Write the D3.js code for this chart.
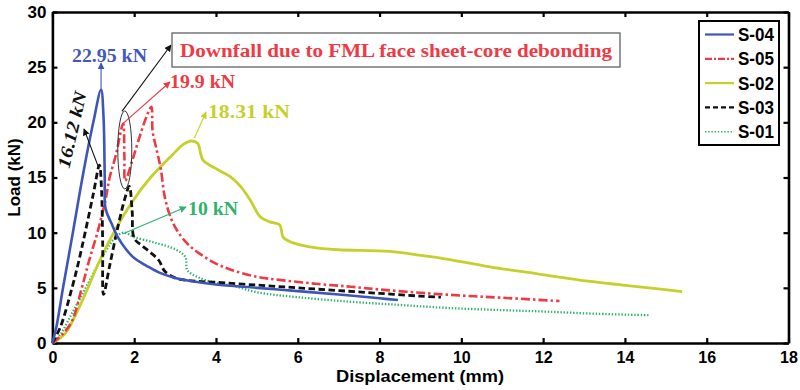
<!DOCTYPE html>
<html>
<head>
<meta charset="utf-8">
<script src="https://cdn.jsdelivr.net/npm/d3@7"></script>
<style>
  body { margin: 0; background: #fff; }
  svg { display: block; }
  .tick text { font-family: "Liberation Sans", Arial, sans-serif; font-weight: bold; }
</style>
</head>
<body>
<div id="chart"><svg></svg></div>
<script>
// load-displacement curves, [displacement mm, load kN]
const s04 = [[0,0],[0.1,1.5],[0.26,5],[0.5,10],[0.75,15.3],[1.0,20],[1.19,22.95],[1.25,20.5],[1.28,15],[1.3,12.2],[1.45,10.8],[1.6,9.6],[1.8,8.5],[2.0,7.7],[2.3,7.0],[2.6,6.4],[3.0,5.9],[3.5,5.55],[4,5.3],[5,5.0],[6,4.7],[7,4.4],[8,4.05],[8.45,3.9]];
const s05 = [[0,0],[0.25,0.8],[0.48,2],[0.72,5],[0.9,7.5],[1.1,10],[1.3,13],[1.4,15],[1.55,17],[1.73,19.9],[1.76,17],[1.78,14.7],[1.95,16.5],[2.1,18.3],[2.3,20.5],[2.42,21.4],[2.45,19.2],[2.55,17.5],[2.65,15.8],[2.75,13.2],[2.9,11.3],[3.05,10.2],[3.3,9],[3.6,8.1],[4.0,7.2],[4.4,6.6],[5,6.0],[5.6,5.7],[6.5,5.35],[7.3,5.1],[8,4.85],[9,4.55],[10,4.3],[11,4.1],[12.4,3.8]];
const s02 = [[0,0],[0.3,0.8],[0.6,2.8],[0.87,5],[1.1,7],[1.5,10],[1.97,12.9],[2.4,15],[3.0,17.3],[3.2,18],[3.4,18.31],[3.55,18.1],[3.68,16.6],[4.0,15.8],[4.34,15.1],[4.6,14.2],[4.83,13],[5.08,11.45],[5.3,11],[5.56,10.7],[5.6,10.2],[5.64,9.6],[5.8,9.2],[6.05,8.9],[6.5,8.6],[7.0,8.45],[8.25,8.3],[9,7.95],[9.5,7.7],[10.7,6.9],[11.9,6.25],[13.1,5.6],[13.95,5.25],[14.7,4.95],[15.4,4.65]];
const s03 = [[0,0],[0.2,1.5],[0.48,5],[0.65,7.5],[0.8,10],[1.0,13.5],[1.15,16.12],[1.2,14],[1.23,9],[1.25,4.4],[1.4,7],[1.6,10.5],[1.78,13.2],[1.88,14.2],[1.95,12],[2.0,9.5],[2.2,8.8],[2.4,8.2],[2.6,7.5],[2.75,6.5],[3.0,5.9],[3.5,5.6],[4,5.5],[5,5.25],[6,5.0],[7,4.75],[8,4.5],[9,4.25],[9.5,4.15]];
const s01 = [[0,0],[0.2,0.8],[0.45,2.5],[0.7,4.2],[1.0,6.3],[1.3,8.3],[1.55,9.6],[1.75,10.0],[2.0,9.6],[2.5,9.1],[3.0,8.5],[3.25,7.8],[3.3,6.6],[3.6,5.9],[4.0,5.45],[4.4,5.2],[5.0,4.6],[6,4.15],[7.28,3.74],[8.5,3.45],[9.7,3.17],[11,2.98],[12.1,2.84],[13.3,2.65],[14.6,2.52]];

const seriesNames = ["S-04", "S-05", "S-02", "S-03", "S-01"];
const xTicks = [0, 2, 4, 6, 8, 10, 12, 14, 16, 18];
const yTicks = [0, 5, 10, 15, 20, 25, 30];

const width = 800, height = 390;
const margin = {left: 52.4, right: 11.5, top: 12, bottom: 47};

const svg = d3.select("#chart svg").attr("width", width).attr("height", height);

const x = d3.scaleLinear().domain([0, 18]).range([margin.left, width - margin.right]);
const y = d3.scaleLinear().domain([0, 30]).range([height - margin.bottom, margin.top]);

const styles = {
  "S-04": {data: s04, color: "#3d56b8", dash: null, w: 2.6},
  "S-05": {data: s05, color: "#ee3a44", dash: "9,3,2.5,3", w: 2.6},
  "S-02": {data: s02, color: "#c6d02c", dash: null, w: 2.8},
  "S-03": {data: s03, color: "#111", dash: "6.5,3.5", w: 2.8},
  "S-01": {data: s01, color: "#2fb36a", dash: "1.4,1.8", w: 2.3}
};

// arrow markers
const defs = svg.append("defs");
function marker(id, color) {
  defs.append("marker").attr("id", id)
    .attr("viewBox", "0 0 10 10").attr("refX", 9).attr("refY", 5)
    .attr("markerWidth", 7).attr("markerHeight", 7).attr("orient", "auto-start-reverse")
    .attr("markerUnits", "userSpaceOnUse")
    .append("path").attr("d", "M0,0 L10,5 L0,10 z").attr("fill", color);
}

// axes
const axisFont = '"Liberation Sans", Arial, sans-serif';

const gx = svg.append("g").attr("transform", `translate(0,${y(0)})`)
  .call(d3.axisBottom(x).tickValues(xTicks).tickSizeInner(-5).tickSizeOuter(0).tickPadding(9));
gx.selectAll("text").attr("font-size", 16);
const gy = svg.append("g").attr("transform", `translate(${x(0)},0)`)
  .call(d3.axisLeft(y).tickValues(yTicks).tickSizeInner(-5).tickSizeOuter(0).tickPadding(6));
gy.selectAll("text").attr("font-size", 17);
svg.append("g").attr("transform", `translate(0,${y(30)})`)
  .call(d3.axisTop(x).tickValues(xTicks).tickSizeInner(-5).tickSizeOuter(0).tickFormat(""));
svg.append("g").attr("transform", `translate(${x(18)},0)`)
  .call(d3.axisRight(y).tickValues(yTicks).tickSizeInner(-5).tickSizeOuter(0).tickFormat(""));
svg.selectAll(".domain").attr("stroke", "#000").attr("stroke-width", 2.6);
svg.selectAll(".tick line").attr("stroke", "#000").attr("stroke-width", 2.2);

svg.append("text").attr("x", 420).attr("y", 382)
  .attr("text-anchor", "middle").attr("font-family", axisFont).attr("font-weight", "bold")
  .attr("font-size", 16).attr("textLength", 168).attr("lengthAdjust", "spacingAndGlyphs")
  .text("Displacement (mm)");
svg.append("text").attr("transform", `translate(20,${(y(0) + y(30)) / 2}) rotate(-90)`)
  .attr("text-anchor", "middle").attr("font-family", axisFont).attr("font-weight", "bold")
  .attr("font-size", 17).text("Load (kN)");

// curves
const line = d3.line().x(d => x(d[0])).y(d => y(d[1])).curve(d3.curveCatmullRom.alpha(0.5));
const plot = svg.append("g");
["S-01", "S-02", "S-05", "S-03", "S-04"].forEach(name => {
  const s = styles[name];
  plot.append("path").datum(s.data).attr("d", line)
    .attr("fill", "none").attr("stroke", s.color).attr("stroke-width", s.w)
    .attr("stroke-dasharray", s.dash).attr("stroke-linejoin", "round");
});

// annotations
const serif = '"Liberation Serif", "Times New Roman", serif';
function annot(txt, tx, ty, color, len, extra) {
  const t = svg.append("text").attr("x", tx).attr("y", ty).attr("fill", color)
    .attr("font-family", serif).attr("font-weight", "bold").attr("font-size", 18)
    .attr("textLength", len).attr("lengthAdjust", "spacingAndGlyphs").text(txt);
  if (extra) extra(t);
  return t;
}
function arrow(p0, p1, color, id) {
  marker(id, color);
  svg.append("line").attr("x1", p0[0]).attr("y1", p0[1]).attr("x2", p1[0]).attr("y2", p1[1])
    .attr("stroke", color).attr("stroke-width", 1.1).attr("marker-end", `url(#${id})`);
}

const peak04 = s04[6], peak05 = s05[9], peak02 = s02[10], peak03 = s03[6], peak01 = s01[7];

arrow([x(peak04[0]), y(peak04[1])], [x(peak04[0]), 63], "#3d56b8", "mBlue");
annot("22.95 kN", 72, 62, "#4457ba", 75);

arrow([x(peak05[0]), y(peak05[1])], [170, 82], "#ee3a44", "mRed");
annot("19.9 kN", 170, 88, "#ee3a44", 65);

arrow([x(peak02[0]) + 3, y(peak02[1]) - 3], [206, 112], "#c6d02c", "mYel");
annot("18.31 kN", 208, 118, "#c6d02c", 82);

arrow([x(peak01[0]) - 1, y(peak01[1]) + 1], [186, 207], "#2fb36a", "mGrn");
annot("10 kN", 188, 215, "#2fb36a", 50);

arrow([x(peak03[0]) - 1, y(peak03[1]) + 2], [84, 129], "#111", "mBlk");
annot("16.12 kN", 0, 0, "#111", 78, t => t.attr("font-style", "italic")
  .attr("text-anchor", "middle")
  .attr("transform", "translate(78,131) rotate(-77)"));

// ellipse around the first red drop
svg.append("ellipse").attr("cx", x(1.77)).attr("cy", y(17.5)).attr("rx", 7).attr("ry", 39)
  .attr("fill", "none").attr("stroke", "#333").attr("stroke-width", 1);
arrow([x(1.7), y(21)], [171, 45], "#111", "mBlk2");

svg.append("rect").attr("x", 172).attr("y", 33).attr("width", 448).attr("height", 34)
  .attr("fill", "#fff").attr("stroke", "#777").attr("stroke-width", 1.5);
annot("Downfall due to FML face sheet-core debonding", 180, 57, "#ee3a44", 432);

// legend
const lg = svg.append("g");
lg.append("rect").attr("x", 699).attr("y", 21).attr("width", 80).attr("height", 124)
  .attr("fill", "#fff").attr("stroke", "#000").attr("stroke-width", 2);
seriesNames.forEach((name, i) => {
  const s = styles[name];
  const cy = 34.5 + i * 24.3;
  lg.append("line").attr("x1", 705).attr("x2", 734).attr("y1", cy).attr("y2", cy)
    .attr("stroke", s.color).attr("stroke-width", name === "S-01" ? 1.6 : 2.2)
    .attr("stroke-dasharray", name === "S-05" ? "7,2,2,2" : (name === "S-03" ? "5,3" : s.dash));
  lg.append("text").attr("x", 738).attr("y", cy + 6.5).attr("font-family", axisFont)
    .attr("font-weight", "bold").attr("font-size", 18).attr("textLength", 36)
    .attr("lengthAdjust", "spacingAndGlyphs").text(name);
});
</script>
</body>
</html>
